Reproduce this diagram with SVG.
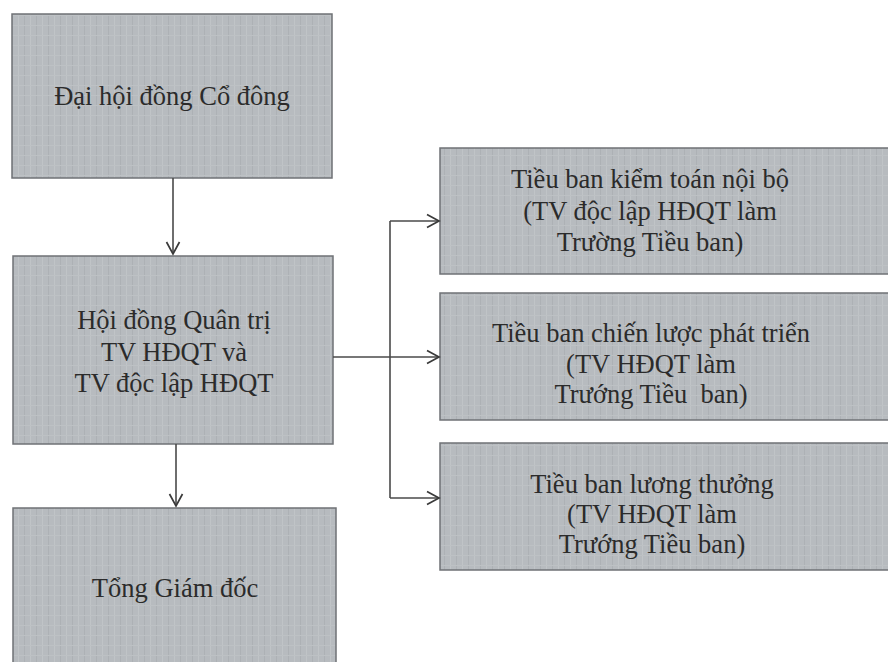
<svg xmlns="http://www.w3.org/2000/svg" width="888" height="662" viewBox="0 0 888 662">
  <defs>
    <pattern id="tex" width="12" height="10" patternUnits="userSpaceOnUse">
      <rect width="12" height="10" fill="#b7bbbf"/>
      <rect x="0" y="0" width="1" height="10" fill="#adb1b5"/>
      <rect x="6" y="0" width="1" height="10" fill="#c0c4c7"/>
      <rect x="0" y="5" width="12" height="1" fill="#bdc1c4"/>
    </pattern>
    <marker id="arr" markerWidth="16" markerHeight="16" refX="13" refY="8" orient="auto" markerUnits="userSpaceOnUse">
      <path d="M1,1.5 L13,8 L1,14.5" fill="none" stroke="#3a3a3a" stroke-width="1.7"/>
    </marker>
  </defs>
  <style>
    .box { fill: url(#tex); stroke: #6f7276; stroke-width: 1.5; }
    .lbl { font-family: "Liberation Serif", "DejaVu Serif", serif; font-size: 26.5px; fill: #2b2b2b; text-anchor: middle; }
    .conn { fill: none; stroke: #4a4a4a; stroke-width: 1.6; }
  </style>
  <rect width="888" height="662" fill="#ffffff"/>

  <g id="node-dhdcd">
    <rect class="box" x="12" y="14" width="320" height="164"/>
    <text class="lbl" x="172" y="105" font-family="Liberation Serif, serif">Đại hội đồng Cổ đông</text>
  </g>

  <g id="node-hdqt">
    <rect class="box" x="13" y="256" width="320" height="188"/>
    <text class="lbl" x="174" y="329" font-family="Liberation Serif, serif">Hội đồng Quân trị</text>
    <text class="lbl" x="174" y="361" font-family="Liberation Serif, serif">TV HĐQT và</text>
    <text class="lbl" x="174" y="392" font-family="Liberation Serif, serif">TV độc lập HĐQT</text>
  </g>

  <g id="node-tgd">
    <rect class="box" x="13" y="508" width="323" height="160"/>
    <text class="lbl" x="175" y="597" font-family="Liberation Serif, serif">Tổng Giám đốc</text>
  </g>

  <g id="node-ktnb">
    <rect class="box" x="440" y="148" width="452" height="126"/>
    <text class="lbl" x="650" y="188" font-family="Liberation Serif, serif">Tiều ban kiểm toán nội bộ</text>
    <text class="lbl" x="650" y="220" font-family="Liberation Serif, serif">(TV độc lập HĐQT làm</text>
    <text class="lbl" x="650" y="251" font-family="Liberation Serif, serif">Trường Tiều ban)</text>
  </g>

  <g id="node-cl">
    <rect class="box" x="440" y="293" width="452" height="127"/>
    <text class="lbl" x="651" y="342" font-family="Liberation Serif, serif">Tiều ban chiến lược phát triển</text>
    <text class="lbl" x="651" y="373" font-family="Liberation Serif, serif">(TV HĐQT làm</text>
    <text class="lbl" x="651" y="403" font-family="Liberation Serif, serif" xml:space="preserve">Trướng Tiều  ban)</text>
  </g>

  <g id="node-lt">
    <rect class="box" x="440" y="443" width="452" height="127"/>
    <text class="lbl" x="652" y="493" font-family="Liberation Serif, serif">Tiều ban lương thưởng</text>
    <text class="lbl" x="652" y="523" font-family="Liberation Serif, serif">(TV HĐQT làm</text>
    <text class="lbl" x="652" y="553" font-family="Liberation Serif, serif">Trướng Tiều ban)</text>
  </g>

  <g id="connectors">
    <line class="conn" x1="173" y1="178" x2="173" y2="254" marker-end="url(#arr)"/>
    <line class="conn" x1="176" y1="444" x2="176" y2="506" marker-end="url(#arr)"/>
    <line class="conn" x1="333" y1="357" x2="439" y2="357" marker-end="url(#arr)"/>
    <line class="conn" x1="390" y1="221" x2="390" y2="498"/>
    <line class="conn" x1="390" y1="221" x2="439" y2="221" marker-end="url(#arr)"/>
    <line class="conn" x1="390" y1="498" x2="439" y2="498" marker-end="url(#arr)"/>
  </g>
</svg>
